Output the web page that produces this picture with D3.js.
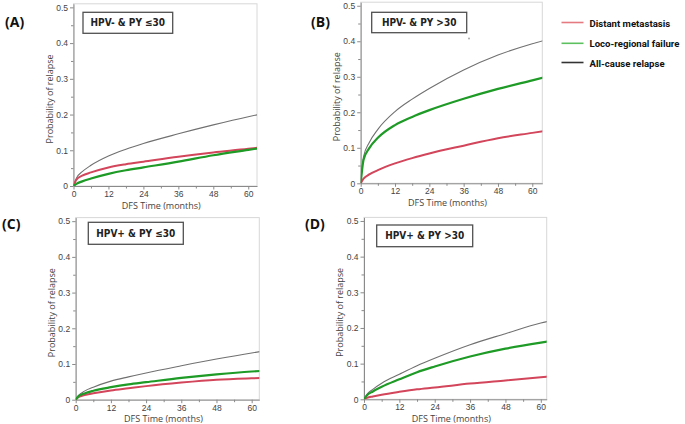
<!DOCTYPE html>
<html>
<head>
<meta charset="utf-8">
<script src="https://cdn.jsdelivr.net/npm/d3@7"></script>
<style>
  body { margin: 0; background: #fff; }
  svg { display: block; font-family: "Open Sans", "DejaVu Sans", sans-serif; }
  .tick text { fill: #444; font-size: 8.5px; }
  .axis path, .axis line { stroke: #8a8a8a; }
</style>
</head>
<body>
<svg id="chart" width="685" height="424"></svg>
<script>
// time grid (months) the curves were read at
var months = [0, 1, 3, 6, 12, 18, 24, 36, 48, 60, 64];

// (A) HPV- & PY <=30
var aDistant = [0, 0.018, 0.029, 0.038, 0.052, 0.061, 0.068, 0.082, 0.094, 0.104, 0.108];
var aLoco    = [0, 0.006, 0.013, 0.021, 0.034, 0.044, 0.052, 0.068, 0.086, 0.101, 0.106];
var aAll     = [0, 0.022, 0.040, 0.058, 0.084, 0.103, 0.119, 0.146, 0.171, 0.194, 0.201];
// (B) HPV- & PY >30
var bDistant = [0, 0.013, 0.025, 0.037, 0.056, 0.071, 0.084, 0.106, 0.127, 0.142, 0.147];
var bLoco    = [0, 0.066, 0.099, 0.128, 0.164, 0.187, 0.206, 0.238, 0.266, 0.290, 0.298];
var bAll     = [0, 0.075, 0.115, 0.152, 0.202, 0.237, 0.267, 0.319, 0.361, 0.393, 0.402];
// (C) HPV+ & PY <=30
var cDistant = [0, 0.0075, 0.013, 0.018, 0.026, 0.032, 0.038, 0.048, 0.056, 0.060, 0.061];
var cLoco    = [0, 0.010, 0.0175, 0.025, 0.035, 0.043, 0.049, 0.061, 0.071, 0.079, 0.081];
var cAll     = [0, 0.012, 0.024, 0.035, 0.052, 0.064, 0.075, 0.095, 0.114, 0.131, 0.136];
// (D) HPV+ & PY >30
var dDistant = [0, 0.004, 0.008, 0.013, 0.021, 0.028, 0.033, 0.044, 0.053, 0.062, 0.065];
var dLoco    = [0, 0.011, 0.022, 0.035, 0.056, 0.076, 0.092, 0.120, 0.142, 0.159, 0.164];
var dAll     = [0, 0.014, 0.028, 0.045, 0.070, 0.094, 0.115, 0.153, 0.184, 0.214, 0.221];

var panelTags   = ["(A)", "(B)", "(C)", "(D)"];
var panelTitles = ["HPV- & PY \u226430", "HPV- & PY >30", "HPV+ & PY \u226430", "HPV+ & PY >30"];
var seriesNames = ["Distant metastasis", "Loco-regional failure", "All-cause relapse"];
var yTicks = [0, 0.1, 0.2, 0.3, 0.4, 0.5];
var xTicks = [0, 12, 24, 36, 48, 60];

var lineColors   = ["#d2455a", "#1e9a26", "#707070"];
var lineWidths   = [2, 2.2, 1.1];
var legendColors = ["#e57a80", "#5dc060", "#333333"];

var series = [
  [aDistant, aLoco, aAll],
  [bDistant, bLoco, bAll],
  [cDistant, cLoco, cAll],
  [dDistant, dLoco, dAll]
];

// plot frames
var frames = [
  {left: 73.5, right: 257,   top: 3.8,   bottom: 186,   xmax: 63,   tag: [5, 27],   box: [83, 12.3, 89.7, 21]},
  {left: 360.7, right: 542.3, top: 2.2,  bottom: 183.3, xmax: 63.5, tag: [311, 27], box: [371.7, 12.3, 95, 20.4]},
  {left: 75.7, right: 259.3, top: 217.6, bottom: 399.7, xmax: 62.6, tag: [2, 229],  box: [88.3, 222.3, 95, 22]},
  {left: 364, right: 546.7,  top: 217.4, bottom: 399.3, xmax: 62,   tag: [305, 229], box: [376.7, 225, 96, 21.7]}
];

var svg = d3.select("#chart");

frames.forEach(function(f, i) {
  var x = d3.scaleLinear().domain([0, f.xmax]).range([f.left, f.right]);
  var y = d3.scaleLinear().domain([0, 0.51]).range([f.bottom, f.top]);
  var g = svg.append("g");

  // light frame on top / right
  g.append("rect")
    .attr("x", f.left).attr("y", f.top)
    .attr("width", f.right - f.left).attr("height", f.bottom - f.top)
    .attr("fill", "none").attr("stroke", "#d8d8d8").attr("stroke-width", 1);

  // minor ticks
  g.append("g").attr("class", "axis")
    .attr("transform", "translate(0," + f.bottom + ")")
    .call(d3.axisBottom(x).tickValues(d3.range(6, 61, 12)).tickSize(2.5).tickFormat(""))
    .call(function(s) { s.select(".domain").remove(); });
  g.append("g").attr("class", "axis")
    .attr("transform", "translate(" + f.left + ",0)")
    .call(d3.axisLeft(y).tickValues([0.05, 0.15, 0.25, 0.35, 0.45]).tickSize(2.5).tickFormat(""))
    .call(function(s) { s.select(".domain").remove(); });

  g.append("g").attr("class", "axis")
    .attr("transform", "translate(0," + f.bottom + ")")
    .call(d3.axisBottom(x).tickValues(xTicks).tickSize(3.5).tickSizeOuter(0).tickPadding(1.5));
  g.append("g").attr("class", "axis")
    .attr("transform", "translate(" + f.left + ",0)")
    .call(d3.axisLeft(y).tickValues(yTicks).tickSize(3.5).tickSizeOuter(0).tickPadding(2)
      .tickFormat(function(d) { return d === 0 ? "0" : d3.format(".1f")(d); }));

  g.append("text")
    .attr("x", (f.left + f.right) / 2 - 4).attr("y", f.bottom + 22.5)
    .attr("text-anchor", "middle").attr("font-size", 9).attr("fill", "#444")
    .text("DFS Time (months)");
  g.append("text")
    .attr("transform", "translate(" + (f.left - 21) + "," + ((f.top + f.bottom) / 2 + 4) + ") rotate(-90)")
    .attr("text-anchor", "middle").attr("font-size", 9).attr("fill", "#444")
    .text("Probability of relapse");

  // curves
  var clipId = "clip" + i;
  g.append("clipPath").attr("id", clipId).append("rect")
    .attr("x", f.left).attr("y", f.top)
    .attr("width", f.right - f.left).attr("height", f.bottom - f.top);

  var line = d3.line()
    .x(function(d, j) { return x(months[j]); })
    .y(function(d) { return y(d); })
    .curve(d3.curveMonotoneX);

  [2, 0, 1].forEach(function(k) {
    g.append("path")
      .attr("clip-path", "url(#" + clipId + ")")
      .attr("d", line(series[i][k]))
      .attr("fill", "none")
      .attr("stroke", lineColors[k])
      .attr("stroke-width", lineWidths[k]);
  });

  // title box
  g.append("rect")
    .attr("x", f.box[0]).attr("y", f.box[1])
    .attr("width", f.box[2]).attr("height", f.box[3])
    .attr("fill", "#fff").attr("stroke", "#505050").attr("stroke-width", 1.3);
  g.append("text")
    .attr("x", f.box[0] + f.box[2] / 2).attr("y", f.box[1] + f.box[3] / 2 + 3.5)
    .attr("text-anchor", "middle").attr("font-size", 10).attr("font-weight", "bold")
    .attr("font-family", "'DejaVu Sans Condensed', 'Liberation Sans Narrow', sans-serif")
    .attr("fill", "#222")
    .text(panelTitles[i]);

  // panel tag
  svg.append("text")
    .attr("x", f.tag[0]).attr("y", f.tag[1])
    .attr("font-size", 14).attr("font-weight", "bold").attr("fill", "#111")
    .text(panelTags[i]);
});

// stray dot in panel B
svg.append("circle").attr("cx", 469).attr("cy", 38.5).attr("r", 1).attr("fill", "#aaa");

// legend
var legend = svg.append("g").attr("transform", "translate(561.5,22.5)");
seriesNames.forEach(function(name, k) {
  var row = legend.append("g").attr("transform", "translate(0," + [0, 20.8, 40][k] + ")");
  row.append("line").attr("x1", 0).attr("x2", 22)
    .attr("stroke", legendColors[k]).attr("stroke-width", 1.6);
  row.append("text").attr("x", 28).attr("y", 4)
    .attr("font-family", "Roboto, 'DejaVu Sans Condensed', sans-serif")
    .attr("font-size", 9.6).attr("font-weight", "bold").attr("fill", "#111")
    .text(name);
});
</script>
</body>
</html>
